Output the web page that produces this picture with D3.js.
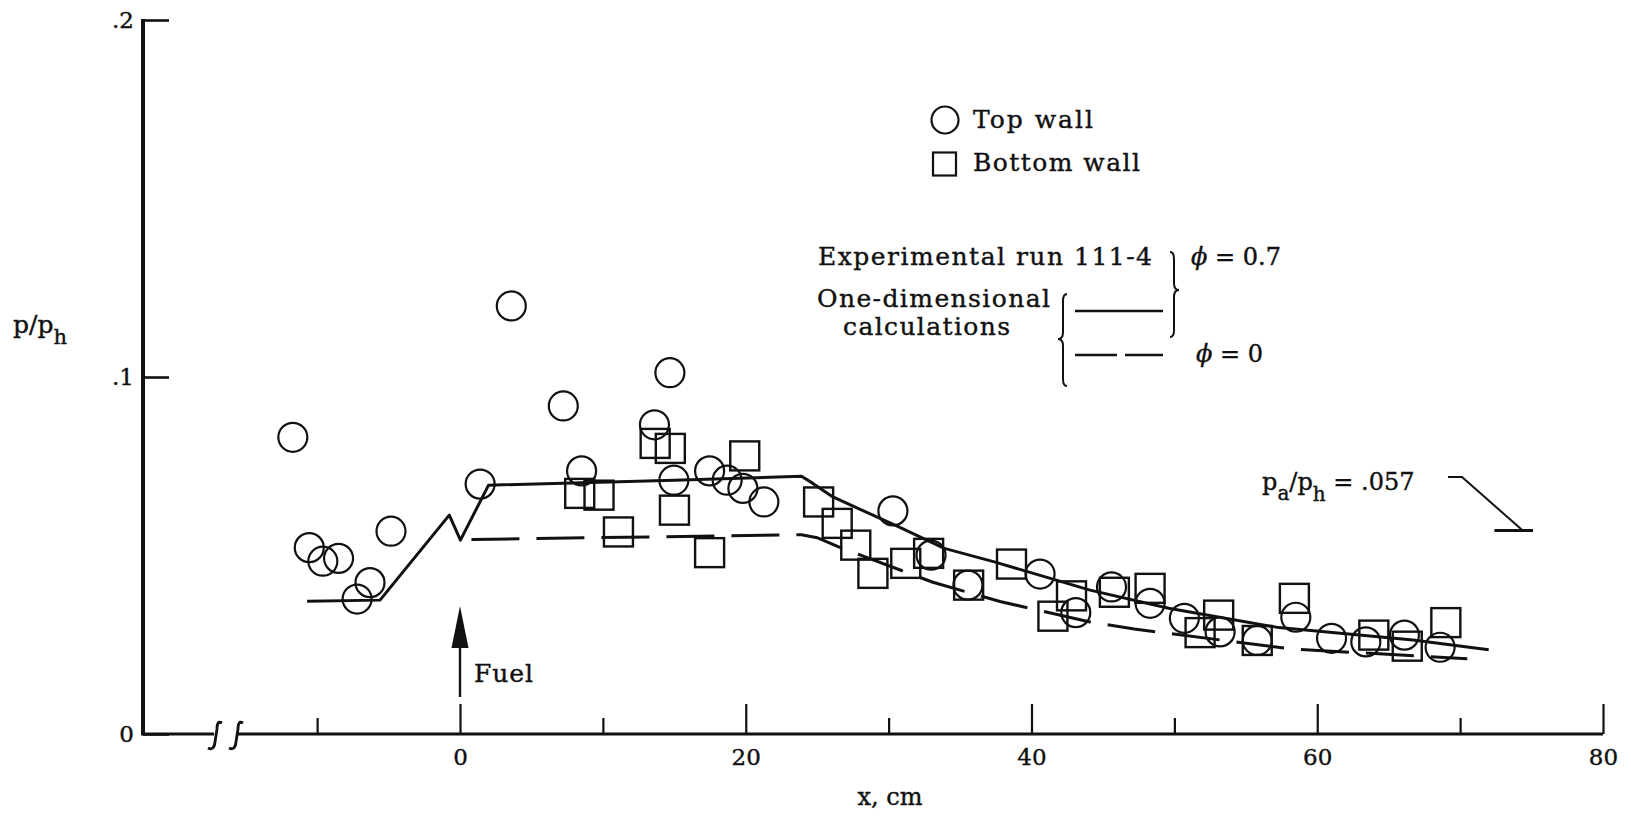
<!DOCTYPE html>
<html>
<head>
<meta charset="utf-8">
<script src="https://cdn.jsdelivr.net/npm/d3@7"></script>
<style>
  html, body { margin: 0; padding: 0; background: #fff; }
  svg { display: block; }
  text { font-family: "DejaVu Serif", serif; fill: #111; stroke: #111; stroke-width: 0.4px; }
</style>
</head>
<body>
<script>
// ---- Data -------------------------------------------------------------
// Top-wall static pressure taps (circles): x in cm, p/p_h
const topWallX = [-11.7, -10.55, -9.6, -8.5, -7.2, -6.3, -4.83, 1.41, 3.59, 7.23, 8.51, 13.61, 14.69, 14.97,
  17.47, 18.7, 19.8, 21.27, 30.3, 32.97, 35.55, 40.6, 43.1, 45.6, 48.3, 50.7, 53.2, 55.8, 58.5, 61.0, 63.4, 66.1, 68.6];
const topWallP = [0.0831, 0.0522, 0.0484, 0.0492, 0.0378, 0.0424, 0.0568, 0.0700, 0.1199, 0.0919, 0.0737, 0.0866, 0.1012, 0.0711,
  0.0737, 0.0711, 0.0688, 0.0650, 0.0625, 0.0501, 0.0417, 0.0448, 0.0340, 0.0412, 0.0366, 0.0324, 0.0286, 0.0262, 0.0327, 0.0268, 0.0258, 0.0277, 0.0243];

// Bottom-wall static pressure taps (squares)
const bottomWallX = [8.38, 9.73, 11.09, 13.66, 14.72, 15.01, 17.47, 19.93, 25.1, 26.4, 27.7, 28.9, 31.2, 32.8,
  35.6, 38.6, 41.5, 42.8, 45.8, 48.3, 51.8, 53.1, 55.8, 58.4, 63.96, 66.3, 69.0];
const bottomWallP = [0.0674, 0.0669, 0.0566, 0.0814, 0.0800, 0.0627, 0.0508, 0.0779, 0.0650, 0.0590, 0.0529, 0.0450, 0.0478, 0.0506,
  0.0417, 0.0476, 0.0330, 0.0387, 0.0397, 0.0408, 0.0284, 0.0333, 0.0262, 0.0380, 0.0277, 0.0246, 0.0312];

// One-dimensional calculation, phi = 0.7 (solid line)
const calcFuelX = [-10.7, -5.6, -0.75, 0.03, 2.0, 15.0, 23.9, 24.7, 26.1, 30.6, 33.9, 37.4, 44.1, 49.6, 57.3, 66.7, 72.0];
const calcFuelP = [0.0372, 0.0375, 0.0613, 0.0543, 0.0697, 0.0711, 0.0722, 0.0702, 0.0664, 0.0582, 0.0520, 0.0482, 0.0403, 0.0352, 0.0298, 0.0263, 0.0236];

// One-dimensional calculation, phi = 0 (dashed line)
const calcNoFuelX = [0.8, 23.9, 25.0, 26.5, 33.1, 37.8, 44.1, 47.2, 58.2, 70.5];
const calcNoFuelP = [0.0545, 0.0558, 0.0550, 0.0524, 0.0425, 0.0371, 0.0314, 0.0294, 0.0238, 0.0211];

// Axis ticks
const xMajorTicks = [0, 20, 40, 60, 80];
const xMinorTicks = [-10, 10, 30, 50, 70];
const yTicks = [0, 0.1, 0.2];
const yTickLabels = ["0", ".1", ".2"];

// Ambient pressure marker p_a/p_h = .057
const ambientRatio = 0.057;
const ambientSpanX = [72.4, 75.1];
const fuelStationX = 0;

// ---- Layout -----------------------------------------------------------
const W = 1631, H = 817;
const ink = "#111";
const svg = d3.select("body").append("svg").attr("width", W).attr("height", H);
svg.append("rect").attr("width", W).attr("height", H).attr("fill", "#fff");

const x = d3.scaleLinear().domain([0, 80]).range([460, 1603]);
const y = d3.scaleLinear().domain([0, 0.2]).range([734, 20]);
const yAxisPos = 143;

// ---- Axes -------------------------------------------------------------
// x axis baseline, broken between the upstream section and the origin
const gx = svg.append("g");
gx.append("line").attr("x1", yAxisPos).attr("x2", 214).attr("y1", y(0)).attr("y2", y(0))
  .attr("stroke", ink).attr("stroke-width", 3);
gx.append("line").attr("x1", 238).attr("x2", x(80)).attr("y1", y(0)).attr("y2", y(0))
  .attr("stroke", ink).attr("stroke-width", 3);
[216, 237].forEach(c => {
  gx.append("path")
    .attr("d", `M${c + 6},723 Q${c + 1},720 ${c + 1},729 L${c - 1},742 Q${c - 2},751 ${c - 8},748`)
    .attr("fill", "none").attr("stroke", ink).attr("stroke-width", 2.8);
});

const majorAxis = svg.append("g").attr("transform", `translate(0,${y(0)})`)
  .call(d3.axisBottom(x).tickValues(xMajorTicks).tickSize(-30).tickPadding(15).tickFormat(d3.format("d")));
const minorAxis = svg.append("g").attr("transform", `translate(0,${y(0)})`)
  .call(d3.axisBottom(x).tickValues(xMinorTicks).tickSize(-16).tickFormat(""));
[majorAxis, minorAxis].forEach(g => {
  g.select(".domain").remove();
  g.selectAll(".tick line").attr("stroke", ink).attr("stroke-width", 2.2);
  g.selectAll(".tick text").attr("font-family", "DejaVu Serif").attr("font-size", 23).attr("fill", ink);
});

// y axis
svg.append("line").attr("x1", yAxisPos).attr("x2", yAxisPos).attr("y1", y(0.2) - 1).attr("y2", y(0) + 1.5)
  .attr("stroke", ink).attr("stroke-width", 4);
const yAxis = svg.append("g").attr("transform", `translate(${yAxisPos},0)`)
  .call(d3.axisLeft(y).tickValues(yTicks).tickSize(-26).tickPadding(9)
    .tickFormat((d, i) => yTickLabels[i]));
yAxis.select(".domain").remove();
yAxis.selectAll(".tick line").attr("stroke", ink).attr("stroke-width", 2.6);
yAxis.selectAll(".tick text").attr("font-family", "DejaVu Serif").attr("font-size", 23).attr("fill", ink);

// axis titles
svg.append("text").attr("x", 890).attr("y", 805).attr("text-anchor", "middle")
  .attr("font-size", 24).text("x, cm");
const yTitle = svg.append("text").attr("x", 13).attr("y", 333).attr("font-size", 25);
yTitle.append("tspan").text("p/p");
yTitle.append("tspan").attr("dy", 11).attr("font-size", 21).text("h");

// ---- Calculated curves -------------------------------------------------
const line = d3.line().x(d => x(d[0])).y(d => y(d[1]));
svg.append("path").datum(d3.zip(calcFuelX, calcFuelP)).attr("d", line)
  .attr("fill", "none").attr("stroke", ink).attr("stroke-width", 3).attr("stroke-linejoin", "round");
svg.append("path").datum(d3.zip(calcNoFuelX, calcNoFuelP)).attr("d", line)
  .attr("fill", "none").attr("stroke", ink).attr("stroke-width", 3).attr("stroke-dasharray", "48,17");

// ---- Measured pressures -------------------------------------------------
svg.append("g").selectAll("circle").data(d3.zip(topWallX, topWallP)).join("circle")
  .attr("cx", d => x(d[0])).attr("cy", d => y(d[1])).attr("r", 14.5)
  .attr("fill", "none").attr("stroke", ink).attr("stroke-width", 2.2);
const sq = 29;
svg.append("g").selectAll("rect").data(d3.zip(bottomWallX, bottomWallP)).join("rect")
  .attr("x", d => x(d[0]) - sq / 2).attr("y", d => y(d[1]) - sq / 2).attr("width", sq).attr("height", sq)
  .attr("fill", "none").attr("stroke", ink).attr("stroke-width", 2.4);

// ---- Fuel injection arrow -------------------------------------------------
const fx = x(fuelStationX);
svg.append("line").attr("x1", fx).attr("x2", fx).attr("y1", 697).attr("y2", 640)
  .attr("stroke", ink).attr("stroke-width", 2.4);
svg.append("path").attr("d", `M${fx},606 L${fx - 8.5},648 L${fx + 8.5},648 Z`).attr("fill", ink);
svg.append("text").attr("x", 474).attr("y", 682).attr("font-size", 25).attr("textLength", 59).text("Fuel");

// ---- Ambient pressure marker -------------------------------------------
const ay = y(ambientRatio);
svg.append("line").attr("x1", x(ambientSpanX[0])).attr("x2", x(ambientSpanX[1])).attr("y1", ay).attr("y2", ay)
  .attr("stroke", ink).attr("stroke-width", 3.2);
const leadEnd = x(74.3);
svg.append("path").attr("d", `M1448,477 L1462,477 L${leadEnd},${ay - 1}`)
  .attr("fill", "none").attr("stroke", ink).attr("stroke-width", 2);
const amb = svg.append("text").attr("x", 1262).attr("y", 490).attr("font-size", 24);
amb.append("tspan").text("p");
amb.append("tspan").attr("dy", 10).attr("font-size", 20).text("a");
amb.append("tspan").attr("dy", -10).text("/p");
amb.append("tspan").attr("dy", 11).attr("font-size", 20).text("h");
amb.append("tspan").attr("dy", -11).text(" = .057");

// ---- Legend -------------------------------------------------------------
const lg = svg.append("g");
lg.append("circle").attr("cx", 945).attr("cy", 120).attr("r", 13.5)
  .attr("fill", "none").attr("stroke", ink).attr("stroke-width", 2.2);
lg.append("text").attr("x", 973).attr("y", 128).attr("font-size", 25).attr("textLength", 120).text("Top wall");
lg.append("rect").attr("x", 933).attr("y", 152.5).attr("width", 23).attr("height", 23)
  .attr("fill", "none").attr("stroke", ink).attr("stroke-width", 2.2);
lg.append("text").attr("x", 973).attr("y", 171).attr("font-size", 25).attr("textLength", 167).text("Bottom wall");

lg.append("text").attr("x", 818).attr("y", 265).attr("font-size", 25).attr("textLength", 334).text("Experimental run 111-4");
lg.append("text").attr("x", 817).attr("y", 307).attr("font-size", 25).attr("textLength", 233).text("One-dimensional");
lg.append("text").attr("x", 843).attr("y", 335).attr("font-size", 25).attr("textLength", 167).text("calculations");

lg.append("line").attr("x1", 1075).attr("x2", 1163).attr("y1", 311).attr("y2", 311)
  .attr("stroke", ink).attr("stroke-width", 2.6);
lg.append("line").attr("x1", 1075).attr("x2", 1163).attr("y1", 355).attr("y2", 355)
  .attr("stroke", ink).attr("stroke-width", 2.6).attr("stroke-dasharray", "42,8");

// curly braces grouping the legend entries
function brace(xc, y0, y1, ym, dir) {
  const e = 4 * dir, d = 5 * dir, r = 7;
  return `M${xc - e},${y0} Q${xc},${y0} ${xc},${y0 + r} L${xc},${ym - r} Q${xc},${ym} ${xc + d},${ym}` +
         ` Q${xc},${ym} ${xc},${ym + r} L${xc},${y1 - r} Q${xc},${y1} ${xc - e},${y1}`;
}
lg.append("path").attr("d", brace(1063, 294, 386, 339, -1))
  .attr("fill", "none").attr("stroke", ink).attr("stroke-width", 2);
lg.append("path").attr("d", brace(1174, 252, 337, 290, 1))
  .attr("fill", "none").attr("stroke", ink).attr("stroke-width", 2);

const phi1 = lg.append("text").attr("x", 1191).attr("y", 265).attr("font-size", 24);
phi1.append("tspan").attr("font-style", "italic").text("\u03D5");
phi1.append("tspan").text(" = 0.7");
const phi0 = lg.append("text").attr("x", 1196).attr("y", 362).attr("font-size", 24);
phi0.append("tspan").attr("font-style", "italic").text("\u03D5");
phi0.append("tspan").text(" = 0");
</script>
</body>
</html>
